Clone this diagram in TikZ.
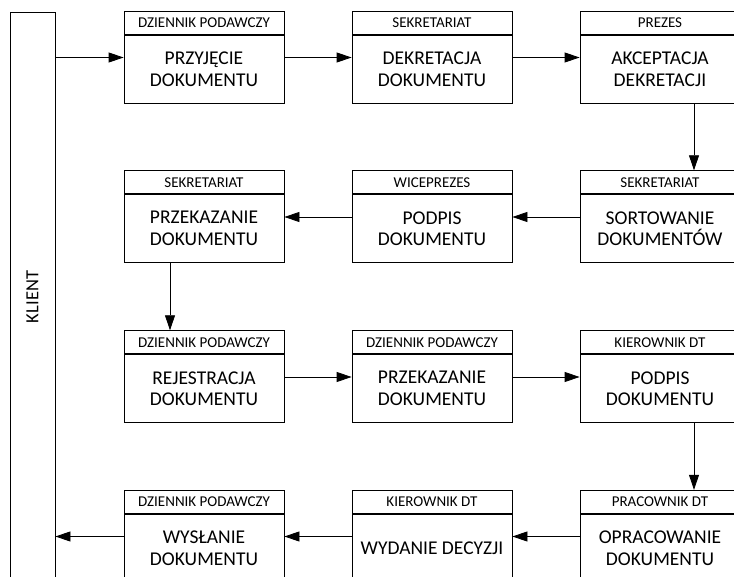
\documentclass[tikz,border=0pt]{standalone}
\usepackage{fontspec}
\setmainfont{Carlito}
\usetikzlibrary{arrows.meta}
\begin{document}
\begin{tikzpicture}[x=1pt,y=-1pt,line width=0.8pt]
	\tikzset{stepbox/.style = {draw, minimum width=160pt, minimum height=68pt, inner sep=0pt, align=center, font=\fontsize{19.5}{21.5}\selectfont}}
	\tikzset{headbox/.style = {draw, minimum width=160pt, minimum height=23pt, inner sep=0pt, font=\fontsize{15}{16}\selectfont}}
	\tikzset{edge/.style = {->, > = {Triangle[length=15pt,width=10pt]}}}
	\useasboundingbox (0,0) rectangle (734,577);
	\clip (0,0) rectangle (734,577);
	% client lane
	\node[draw, minimum width=45pt, minimum height=570pt] (klient) at (32.5,297) {};
	\node[rotate=90, font=\fontsize{18.5}{21}\selectfont] (klientt) at (klient.center) {KLIENT};
	% row 1
	\node[stepbox, label={[headbox,name=h1]above:DZIENNIK PODAWCZY}] (p1) at (204,69) {PRZYJĘCIE\\DOKUMENTU};
	\node[stepbox, label={[headbox,name=h2]above:SEKRETARIAT}] (p2) at (432,69) {DEKRETACJA\\DOKUMENTU};
	\node[stepbox, label={[headbox,name=h3]above:PREZES}] (p3) at (660,69) {AKCEPTACJA\\DEKRETACJI};
	% row 2
	\node[stepbox, label={[headbox,name=h4]above:SEKRETARIAT}] (p4) at (660,228.5) {SORTOWANIE\\DOKUMENTÓW};
	\node[stepbox, label={[headbox,name=h5]above:WICEPREZES}] (p5) at (432,228.5) {PODPIS\\DOKUMENTU};
	\node[stepbox, label={[headbox,name=h6]above:SEKRETARIAT}] (p6) at (204,228.5) {PRZEKAZANIE\\DOKUMENTU};
	% row 3
	\node[stepbox, label={[headbox,name=h7]above:DZIENNIK PODAWCZY}] (p7) at (204,388.5) {REJESTRACJA\\DOKUMENTU};
	\node[stepbox, label={[headbox,name=h8]above:DZIENNIK PODAWCZY}] (p8) at (432,388.5) {PRZEKAZANIE\\DOKUMENTU};
	\node[stepbox, label={[headbox,name=h9]above:KIEROWNIK DT}] (p9) at (660,388.5) {PODPIS\\DOKUMENTU};
	% row 4
	\node[stepbox, label={[headbox,name=h10]above:PRACOWNIK DT}] (p10) at (660,548) {OPRACOWANIE\\DOKUMENTU};
	\node[stepbox, label={[headbox,name=h11]above:KIEROWNIK DT}] (p11) at (432,548) {WYDANIE DECYZJI};
	\node[stepbox, label={[headbox,name=h12]above:DZIENNIK PODAWCZY}] (p12) at (204,548) {WYSŁANIE\\DOKUMENTU};
	% flow
	\coordinate (in1) at ([yshift=11.5pt]p1.west);
	\coordinate (out12) at ([yshift=11.5pt]p12.west);
	\draw[edge] (klient.east |- in1) -- (in1);
	\draw[edge] ([yshift=11.5pt]p1.east) -- ([yshift=11.5pt]p2.west);
	\draw[edge] ([yshift=11.5pt]p2.east) -- ([yshift=11.5pt]p3.west);
	\draw[edge] ([xshift=34pt]p3.south) -- ([xshift=34pt]h4.north);
	\draw[edge] ([yshift=11.5pt]p4.west) -- ([yshift=11.5pt]p5.east);
	\draw[edge] ([yshift=11.5pt]p5.west) -- ([yshift=11.5pt]p6.east);
	\draw[edge] ([xshift=-34pt]p6.south) -- ([xshift=-34pt]h7.north);
	\draw[edge] ([yshift=11.5pt]p7.east) -- ([yshift=11.5pt]p8.west);
	\draw[edge] ([yshift=11.5pt]p8.east) -- ([yshift=11.5pt]p9.west);
	\draw[edge] ([xshift=34pt]p9.south) -- ([xshift=34pt]h10.north);
	\draw[edge] ([yshift=11.5pt]p10.west) -- ([yshift=11.5pt]p11.east);
	\draw[edge] ([yshift=11.5pt]p11.west) -- ([yshift=11.5pt]p12.east);
	\draw[edge] (out12) -- (klient.east |- out12);
\end{tikzpicture}
\end{document}
